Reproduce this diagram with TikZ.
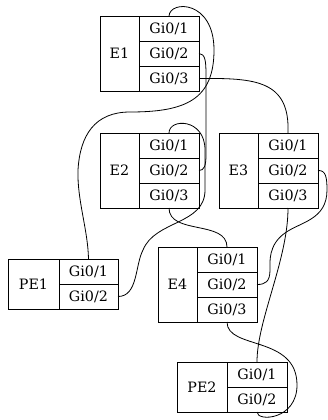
\documentclass[tikz,border=0pt]{standalone}
\usepackage{fontspec}
\setmainfont{DejaVu Serif}
\usetikzlibrary{positioning}

\begin{document}
\begin{tikzpicture}[
  x=1pt, y=-1pt,
  every node/.style={font=\fontsize{14.3}{16}\selectfont},
  devbox/.style={draw, rectangle, inner sep=0pt, outer sep=0pt, minimum width=39pt, minimum height=75pt, anchor=north west},
  pebox/.style={devbox, minimum width=50pt, minimum height=50pt},
  portbox/.style={draw, rectangle, inner sep=0pt, outer sep=0pt, minimum width=60pt, minimum height=25pt},
  cable/.style={line width=0.8pt},
  line width=0.8pt
]
\useasboundingbox (0,0) rectangle (327,420);

% switches
\node[devbox] (e1) at (100,16) {E1};
\node[portbox, anchor=north west] (e1g1) at (e1.north east) {Gi0/1};
\node[portbox, below=0pt of e1g1] (e1g2) {Gi0/2};
\node[portbox, below=0pt of e1g2] (e1g3) {Gi0/3};

\node[devbox] (e2) at (100,133) {E2};
\node[portbox, anchor=north west] (e2g1) at (e2.north east) {Gi0/1};
\node[portbox, below=0pt of e2g1] (e2g2) {Gi0/2};
\node[portbox, below=0pt of e2g2] (e2g3) {Gi0/3};

\node[devbox] (e3) at (219,133) {E3};
\node[portbox, anchor=north west] (e3g1) at (e3.north east) {Gi0/1};
\node[portbox, below=0pt of e3g1] (e3g2) {Gi0/2};
\node[portbox, below=0pt of e3g2] (e3g3) {Gi0/3};

\node[devbox] (e4) at (158,247) {E4};
\node[portbox, anchor=north west] (e4g1) at (e4.north east) {Gi0/1};
\node[portbox, below=0pt of e4g1] (e4g2) {Gi0/2};
\node[portbox, below=0pt of e4g2] (e4g3) {Gi0/3};

% provider edges
\node[pebox, minimum width=51pt] (pe1) at (8,259) {PE1};
\node[portbox, anchor=north west, minimum width=59pt] (pe1g1) at (pe1.north east) {Gi0/1};
\node[portbox, below=0pt of pe1g1, minimum width=59pt] (pe1g2) {Gi0/2};

\node[pebox] (pe2) at (177,362) {PE2};
\node[portbox, anchor=north west] (pe2g1) at (pe2.north east) {Gi0/1};
\node[portbox, below=0pt of pe2g1] (pe2g2) {Gi0/2};

% links
\draw[cable] (e1g1.north) .. controls (170,0) and (214,0) .. (214,50)
  .. controls (214,100) and (185,112) .. (130,112)
  .. controls (95,112) and (80,135) .. (78,170)
  .. controls (77,200) and (88,230) .. (pe1g1.north);
\draw[cable] (e1g2.east) .. controls (205,54) and (206,60) .. (206,75)
  -- (206,155) .. controls (206,166) and (204,170.5) .. (e2g2.east);
\draw[cable] (e1g3.east) .. controls (255,78) and (290,80) .. (e3g1.north);
\draw[cable] (e2g1.north) .. controls (169,118) and (205,118) .. (205,150)
  -- (205,190) .. controls (205,225) and (155,220) .. (143,250)
  .. controls (135,265) and (138,296.5) .. (pe1g2.east);
\draw[cable] (e2g3.south) .. controls (169,235) and (227,220) .. (e4g1.north);
\draw[cable] (e3g2.east) .. controls (326,170) and (327,178) .. (327,190)
  .. controls (327,220) and (300,222) .. (285,233)
  .. controls (268,245) and (270,262) .. (270,270)
  .. controls (270,282) and (265,284.5) .. (e4g2.east);
\draw[cable] (e3g3.south) .. controls (288,260) and (257,320) .. (pe2g1.north);
\draw[cable] (e4g3.south) .. controls (227,350) and (297,335) .. (297,385)
  .. controls (297,420) and (257,422) .. (pe2g2.south);
\end{tikzpicture}
\end{document}
